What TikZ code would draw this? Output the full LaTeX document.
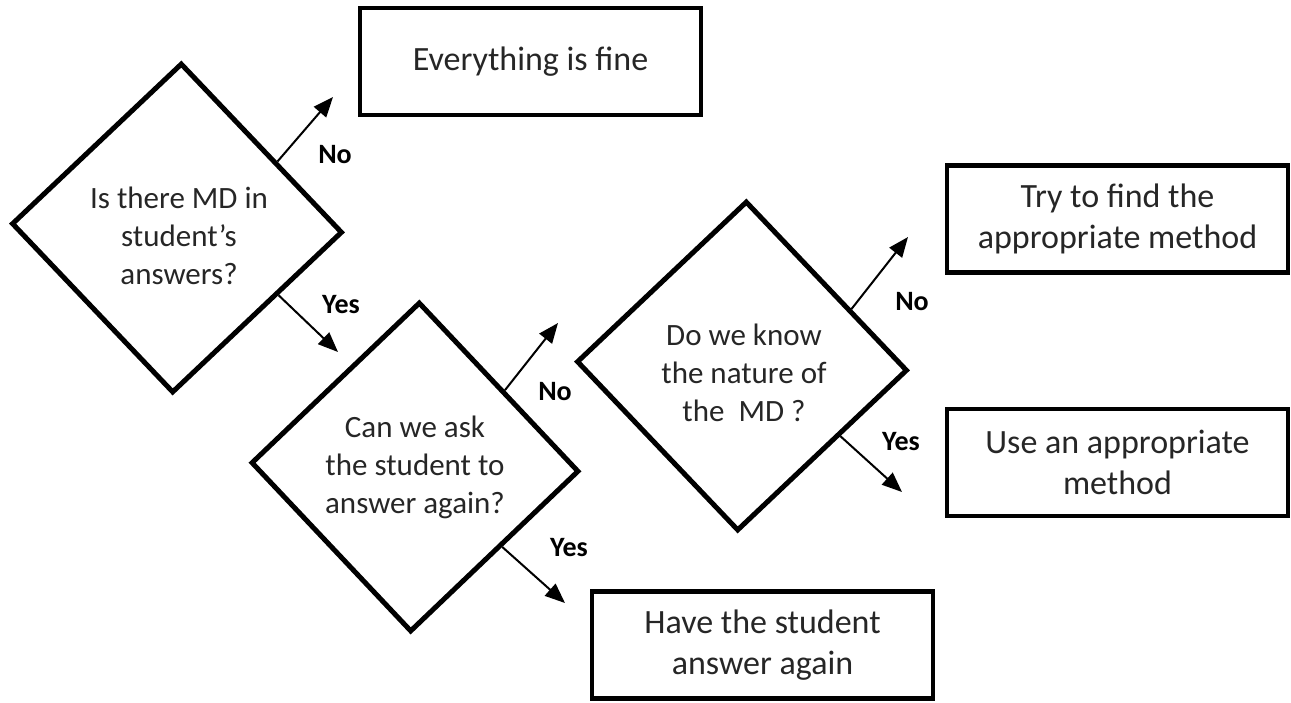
\documentclass[tikz,border=0pt]{standalone}
\usepackage{fontspec}
\setmainfont{Carlito}
\usetikzlibrary{shapes.geometric,arrows.meta}
\tikzset{
 dia/.style={draw, shape=diamond, line width=5pt, minimum width=331pt, minimum height=330pt, inner sep=0pt, rotate=-1.5},
 dtext/.style={align=center, font=\fontsize{31}{38}\selectfont, inner sep=0pt, text=black!85},
 box/.style={draw, line width=4.5pt, minimum width=341pt, minimum height=107pt, align=center, font=\fontsize{34}{41.5}\selectfont, inner sep=0pt, text=black!85},
 lbl/.style={font=\bfseries\fontsize{28}{34}\selectfont, inner sep=0pt},
 arr/.style={line width=2pt, -{Triangle[length=20pt,width=16pt]}},
}
\begin{document}
\begin{tikzpicture}[x=1pt,y=-1pt]
\useasboundingbox (0,0) rectangle (1291,702);
% decisions
\node[dia] (d1) at (177,228) {};
\node[dtext] (t1) at (179,236) {Is there MD in\\student’s\\answers?};
\node[dia, minimum width=328pt] (d2) at (415,467) {};
\node[dtext] (t2) at (415,467) {Can we ask\\the student to\\answer again?};
\node[dia] (d3) at (742,366) {};
\node[dtext] (t3) at (744,373) {Do we know\\the nature of\\the\ \ MD ?};
% outcome boxes
\node[box] (b1) at (530.5,61.5) {Everything is fine};
\node[box] (b2) at (1117.5,219) {Try to find the\\appropriate method};
\node[box] (b3) at (1117.5,462.5) {Use an appropriate\\method};
\node[box] (b4) at (762.5,645) {Have the student\\answer again};
% arrow tips
\coordinate (e1n) at (333,97);
\coordinate (e1y) at (338,352);
\coordinate (e2n) at (558,323);
\coordinate (e2y) at (565,603);
\coordinate (e3n) at (908,237);
\coordinate (e3y) at (902,492);
% connectors
\draw[arr] (d1.35) -- (e1n);
\draw[arr] (d1.-32) -- (e1y);
\draw[arr] (d2.42) -- (e2n);
\draw[arr] (d2.-41) -- (e2y);
\draw[arr] (d3.29.5) -- (e3n);
\draw[arr] (d3.-34) -- (e3y);
% labels
\node[lbl] (l1n) at (335,155) {No};
\node[lbl] (l1y) at (341,305) {Yes};
\node[lbl] (l2n) at (555,392) {No};
\node[lbl] (l2y) at (569,548) {Yes};
\node[lbl] (l3n) at (912,302) {No};
\node[lbl] (l3y) at (901,442) {Yes};
\end{tikzpicture}
\end{document}
